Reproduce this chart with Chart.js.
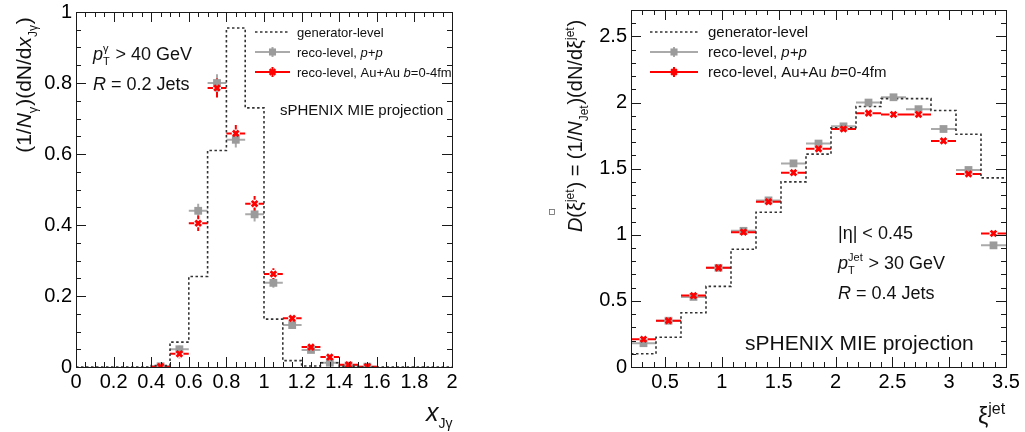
<!DOCTYPE html>
<html>
<head>
<meta charset="utf-8">
<script src="https://cdn.jsdelivr.net/npm/chart.js@4.4.1/dist/chart.umd.min.js"></script>
<style>
  html, body { margin: 0; padding: 0; background: #fff; }
  #wrap { position: relative; width: 1025px; height: 432px; overflow: hidden; }
  #wrap canvas { position: absolute; top: 0; }
</style>
</head>
<body>
<div id="wrap">
  <canvas id="xjPanel" width="512" height="432" style="left:0"></canvas>
  <canvas id="xiPanel" width="513" height="432" style="left:512px"></canvas>
</div>
<script>
const FONT = '"Liberation Sans", Arial, Helvetica, sans-serif';

// ---- x_Jgamma distribution (bins of 0.1) ----
const xjEdges = [0.0, 0.1, 0.2, 0.3, 0.4, 0.5, 0.6, 0.7, 0.8, 0.9, 1.0, 1.1, 1.2, 1.3, 1.4, 1.5, 1.6, 1.7, 1.8, 1.9, 2.0];
const xjGen = [0, 0, 0, 0, 0.004, 0.07, 0.255, 0.61, 0.955, 0.73, 0.135, 0.018, 0.003, 0.012, 0.002, 0, 0, 0, 0, 0];
const xjCenters = [0.45, 0.55, 0.65, 0.75, 0.85, 0.95, 1.05, 1.15, 1.25, 1.35, 1.45, 1.55];
const xjPP = [0.002, 0.05, 0.44, 0.80, 0.64, 0.43, 0.237, 0.118, 0.048, 0.012, 0.004, 0.001];
const xjPPErr = [0.004, 0.01, 0.02, 0.025, 0.022, 0.02, 0.014, 0.01, 0.006, 0.004, 0.002, 0.001];
const xjAuAu = [0.001, 0.037, 0.405, 0.786, 0.658, 0.46, 0.262, 0.137, 0.056, 0.028, 0.006, 0.001];
const xjAuAuErr = [0.004, 0.012, 0.022, 0.027, 0.024, 0.022, 0.016, 0.011, 0.007, 0.005, 0.003, 0.002];
const xjTicksX = [0, 0.2, 0.4, 0.6, 0.8, 1, 1.2, 1.4, 1.6, 1.8, 2];
const xjTicksY = [0, 0.2, 0.4, 0.6, 0.8, 1];

// ---- fragmentation function D(xi) (bins of 0.22) ----
const xiEdges = [0.2, 0.42, 0.64, 0.86, 1.08, 1.30, 1.52, 1.74, 1.96, 2.18, 2.40, 2.62, 2.84, 3.06, 3.28, 3.50];
const xiGen = [0.10, 0.225, 0.41, 0.61, 0.89, 1.17, 1.40, 1.61, 1.81, 1.97, 2.03, 2.03, 1.94, 1.76, 1.43];
const xiCenters = [0.31, 0.53, 0.75, 0.97, 1.19, 1.41, 1.63, 1.85, 2.07, 2.29, 2.51, 2.73, 2.95, 3.17, 3.39];
const xiPP = [0.18, 0.35, 0.53, 0.75, 1.03, 1.26, 1.54, 1.69, 1.82, 2.00, 2.04, 1.95, 1.80, 1.49, 0.92];
const xiPPErr = [0.01, 0.01, 0.01, 0.01, 0.01, 0.01, 0.01, 0.01, 0.01, 0.01, 0.01, 0.01, 0.012, 0.012, 0.015];
const xiAuAu = [0.21, 0.35, 0.54, 0.75, 1.02, 1.25, 1.47, 1.65, 1.80, 1.92, 1.91, 1.91, 1.71, 1.46, 1.01];
const xiAuAuErr = [0.012, 0.012, 0.012, 0.012, 0.012, 0.012, 0.012, 0.012, 0.012, 0.012, 0.012, 0.012, 0.014, 0.015, 0.02];
const xiTicksX = [0.5, 1, 1.5, 2, 2.5, 3, 3.5];
const xiTicksY = [0, 0.5, 1, 1.5, 2, 2.5];

const GRAY = '#9b9b9b';
const RED = '#ff0000';

// histogram outline: one point per left edge, plus the closing edge
function stepPoints(edges, vals) {
  return edges.map((e, i) => ({ x: e, y: vals[Math.min(i, vals.length - 1)] }));
}
function pts(xs, ys) {
  return xs.map((x, i) => ({ x: x, y: ys[i] }));
}

// draws a run of text pieces: {t, it} plain/italic, {sup, sub} stacked indices, {gap} extra space
function richText(ctx, segs, x, y, size, draw = true) {
  let cx = x;
  for (const s of segs) {
    if (s.gap !== undefined) { cx += s.gap * size; continue; }
    if (s.t !== undefined) {
      ctx.font = (s.it ? 'italic ' : '') + size + 'px ' + FONT;
      if (draw) ctx.fillText(s.t, cx, y);
      cx += ctx.measureText(s.t).width;
    } else {
      const sm = Math.round(size * (s.scale || 0.62));
      ctx.font = sm + 'px ' + FONT;
      let w = 0;
      if (s.sup) {
        if (draw) ctx.fillText(s.sup, cx, y - size * 0.42);
        w = Math.max(w, ctx.measureText(s.sup).width);
      }
      if (s.sub) {
        if (draw) ctx.fillText(s.sub, cx, y + size * 0.28);
        w = Math.max(w, ctx.measureText(s.sub).width);
      }
      cx += w + size * 0.04;
    }
  }
  return cx - x;
}

function rotatedText(ctx, segs, baseX, centerY, size) {
  ctx.save();
  ctx.translate(baseX, centerY);
  ctx.rotate(-Math.PI / 2);
  const w = richText(ctx, segs, 0, 0, size, false);
  richText(ctx, segs, -w / 2, 0, size);
  ctx.restore();
}

function legendRow(ctx, kind, x0, x1, y, textX, segs, size) {
  const mx = (x0 + x1) / 2;
  ctx.save();
  if (kind === 'gen') {
    ctx.strokeStyle = '#333';
    ctx.lineWidth = 1.6;
    ctx.setLineDash([2.5, 2.5]);
    ctx.beginPath(); ctx.moveTo(x0, y); ctx.lineTo(x1, y); ctx.stroke();
  } else {
    const pp = kind === 'pp';
    ctx.strokeStyle = pp ? '#aaa' : RED;
    ctx.lineWidth = 2;
    ctx.beginPath();
    ctx.moveTo(x0, y); ctx.lineTo(x1, y);
    ctx.moveTo(mx, y - 5); ctx.lineTo(mx, y + 5);
    ctx.stroke();
    ctx.fillStyle = pp ? GRAY : RED;
    ctx.strokeStyle = pp ? GRAY : RED;
    ctx.lineWidth = pp ? 0 : 2.5;
    Chart.helpers.drawPoint(ctx, {
      pointStyle: pp ? 'rect' : 'crossRot', radius: pp ? 5 : 4, borderWidth: pp ? 0 : 2.5, rotation: 0
    }, mx, y);
  }
  ctx.restore();
  ctx.fillStyle = '#111';
  richText(ctx, segs, textX, y + size * 0.36, size);
}

// frame, inward ticks on all four sides, error bars, titles and legend
function panelDecor(p) {
  return {
    id: 'panelDecor',
    beforeDatasetsDraw(chart) {
      const ctx = chart.ctx, xs = chart.scales.x, ys = chart.scales.y;
      ctx.save();
      chart.data.datasets.forEach(ds => {
        if (!ds.errY) return;
        ctx.strokeStyle = ds.errColor;
        ctx.lineWidth = 2;
        ds.data.forEach((pt, i) => {
          const px = xs.getPixelForValue(pt.x), py = ys.getPixelForValue(pt.y);
          const xl = xs.getPixelForValue(pt.x - p.halfW), xr = xs.getPixelForValue(pt.x + p.halfW);
          const yt = ys.getPixelForValue(pt.y + ds.errY[i]), yb = ys.getPixelForValue(pt.y - ds.errY[i]);
          const g = ds.gap;
          ctx.beginPath();
          ctx.moveTo(xl, py); ctx.lineTo(px - g, py);
          ctx.moveTo(px + g, py); ctx.lineTo(xr, py);
          if (yt < py - g) {
            ctx.moveTo(px, yt); ctx.lineTo(px, py - g);
            ctx.moveTo(px, py + g); ctx.lineTo(px, Math.min(yb, chart.chartArea.bottom));
          }
          ctx.stroke();
        });
      });
      ctx.restore();
    },
    afterDraw(chart) {
      const ctx = chart.ctx, xs = chart.scales.x, ys = chart.scales.y, a = chart.chartArea;
      ctx.save();
      ctx.strokeStyle = '#1a1a1a';
      ctx.lineWidth = 1;
      ctx.strokeRect(Math.round(a.left) + 0.5, Math.round(a.top) + 0.5, Math.round(a.right - a.left), Math.round(a.bottom - a.top));

      const minorVals = (min, max, step) => {
        const out = [];
        for (let k = Math.ceil(min / step - 1e-6); k * step <= max + 1e-6; k++) out.push(+(k * step).toFixed(4));
        return out;
      };
      ctx.beginPath();
      minorVals(xs.min, xs.max, p.xMinor).forEach(v => {
        const len = p.ticksX.some(t => Math.abs(t - v) < 1e-6) ? 10 : 5;
        const x = Math.round(xs.getPixelForValue(v)) + 0.5;
        ctx.moveTo(x, a.bottom); ctx.lineTo(x, a.bottom - len);
        ctx.moveTo(x, a.top); ctx.lineTo(x, a.top + len);
      });
      minorVals(ys.min, ys.max, p.yMinor).forEach(v => {
        const len = p.ticksY.some(t => Math.abs(t - v) < 1e-6) ? 10 : 5;
        const y = Math.round(ys.getPixelForValue(v)) + 0.5;
        ctx.moveTo(a.left, y); ctx.lineTo(a.left + len, y);
        ctx.moveTo(a.right, y); ctx.lineTo(a.right - len, y);
      });
      ctx.stroke();

      ctx.fillStyle = '#111';
      ctx.textBaseline = 'alphabetic';
      p.texts(ctx);
      ctx.restore();
    }
  };
}

function makePanel(canvasId, p) {
  return new Chart(document.getElementById(canvasId), {
    type: 'scatter',
    data: {
      datasets: [
        {
          type: 'line', data: stepPoints(p.edges, p.gen), stepped: true,
          borderColor: '#333', borderWidth: 1.6, borderDash: [2.5, 2.5],
          pointRadius: 0, fill: false, order: 3
        },
        {
          data: pts(p.centers, p.pp), errY: p.ppErr, errColor: '#aaa', gap: 0,
          pointStyle: 'rect', pointRadius: 5.5, backgroundColor: GRAY, borderColor: GRAY, borderWidth: 0, order: 2
        },
        {
          data: pts(p.centers, p.auau), errY: p.auauErr, errColor: RED, gap: 4,
          pointStyle: 'crossRot', pointRadius: 4, backgroundColor: RED, borderColor: RED, borderWidth: 2.8, order: 1
        }
      ]
    },
    options: {
      responsive: false,
      devicePixelRatio: 1,
      animation: false,
      events: [],
      layout: { padding: p.pad },
      plugins: { legend: { display: false }, tooltip: { enabled: false } },
      scales: {
        x: {
          type: 'linear', min: p.xMin, max: p.xMax,
          grid: { display: false, drawTicks: false }, border: { display: false },
          afterBuildTicks: s => { s.ticks = p.ticksX.map(v => ({ value: v })); },
          afterFit: s => { s.height = p.xAxisH; s.paddingLeft = 0; s.paddingRight = 0; },
          ticks: {
            padding: 3, color: '#000', maxRotation: 0, autoSkip: false,
            font: { family: FONT, size: 20 },
            callback: v => String(+(+v).toFixed(2))
          }
        },
        y: {
          type: 'linear', min: 0, max: p.yMax,
          grid: { display: false, drawTicks: false }, border: { display: false },
          afterBuildTicks: s => { s.ticks = p.ticksY.map(v => ({ value: v })); },
          afterFit: s => { s.width = p.yAxisW; s.paddingTop = 0; s.paddingBottom = 0; },
          ticks: {
            padding: 4, color: '#000', autoSkip: false,
            font: { family: FONT, size: 20 },
            callback: v => String(+(+v).toFixed(2))
          }
        }
      }
    },
    plugins: [panelDecor(p)]
  });
}

makePanel('xjPanel', {
  edges: xjEdges, gen: xjGen, centers: xjCenters,
  pp: xjPP, ppErr: xjPPErr, auau: xjAuAu, auauErr: xjAuAuErr,
  ticksX: xjTicksX, ticksY: xjTicksY, xMinor: 0.05, yMinor: 0.05,
  xMin: 0, xMax: 2, yMax: 1, halfW: 0.05,
  pad: { top: 12, right: 60, bottom: 0, left: 0 }, xAxisH: 65, yAxisW: 76,
  texts(ctx) {
    rotatedText(ctx, [{ t: '(1/' }, { t: 'N', it: true }, { sub: 'γ' }, { t: ')(dN/d' }, { t: 'x', it: true }, { sub: 'Jγ', scale: 0.55 }, { t: ')' }], 31, 85, 21);
    richText(ctx, [{ t: 'x', it: true }, { sub: 'Jγ', scale: 0.55 }], 426, 421, 25);
    richText(ctx, [{ t: 'p', it: true }, { sup: 'γ', sub: 'T' }, { t: ' > 40 GeV' }], 93, 60, 18);
    richText(ctx, [{ t: 'R', it: true }, { t: ' = 0.2 Jets' }], 93, 90, 18);
    richText(ctx, [{ t: 'sPHENIX MIE projection' }], 280, 115, 15);
    legendRow(ctx, 'gen', 255, 290, 32, 297, [{ t: 'generator-level' }], 13);
    legendRow(ctx, 'pp', 255, 290, 52, 297, [{ t: 'reco-level, ' }, { t: 'p+p', it: true }], 13);
    legendRow(ctx, 'auau', 255, 290, 72, 297, [{ t: 'reco-level, Au+Au ' }, { t: 'b', it: true }, { t: '=0-4fm' }], 13);
  }
});

makePanel('xiPanel', {
  edges: xiEdges, gen: xiGen, centers: xiCenters,
  pp: xiPP, ppErr: xiPPErr, auau: xiAuAu, auauErr: xiAuAuErr,
  ticksX: xiTicksX, ticksY: xiTicksY, xMinor: 0.1, yMinor: 0.1,
  xMin: 0.2, xMax: 3.5, yMax: 2.7, halfW: 0.11,
  pad: { top: 10, right: 19, bottom: 0, left: 0 }, xAxisH: 65, yAxisW: 119,
  texts(ctx) {
    rotatedText(ctx, [{ t: 'D', it: true }, { t: '(ξ' }, { sup: 'jet' }, { t: ') = (1/' }, { t: 'N', it: true }, { sub: 'Jet' },
      { t: ')(dN/dξ' }, { sup: 'jet' }, { t: ')' }], 70, 126, 20);
    ctx.save();
    ctx.strokeStyle = '#666'; ctx.lineWidth = 0.8;
    ctx.strokeRect(37.5, 209.5, 5, 5);
    ctx.restore();
    richText(ctx, [{ t: 'ξ' }, { sup: 'jet', scale: 0.7 }], 466, 424, 23);
    richText(ctx, [{ t: '|η| < 0.45' }], 326, 239, 18);
    richText(ctx, [{ t: 'p', it: true }, { sup: 'Jet', sub: 'T' }, { t: ' > 30 GeV' }], 326, 269, 18);
    richText(ctx, [{ t: 'R', it: true }, { t: ' = 0.4 Jets' }], 326, 299, 18);
    richText(ctx, [{ t: 'sPHENIX MIE projection' }], 233, 350, 21);
    legendRow(ctx, 'gen', 138, 186, 32, 196, [{ t: 'generator-level' }], 15);
    legendRow(ctx, 'pp', 138, 186, 52, 196, [{ t: 'reco-level, ' }, { t: 'p+p', it: true }], 15);
    legendRow(ctx, 'auau', 138, 186, 72, 196, [{ t: 'reco-level, Au+Au ' }, { t: 'b', it: true }, { t: '=0-4fm' }], 15);
  }
});
</script>
</body>
</html>
